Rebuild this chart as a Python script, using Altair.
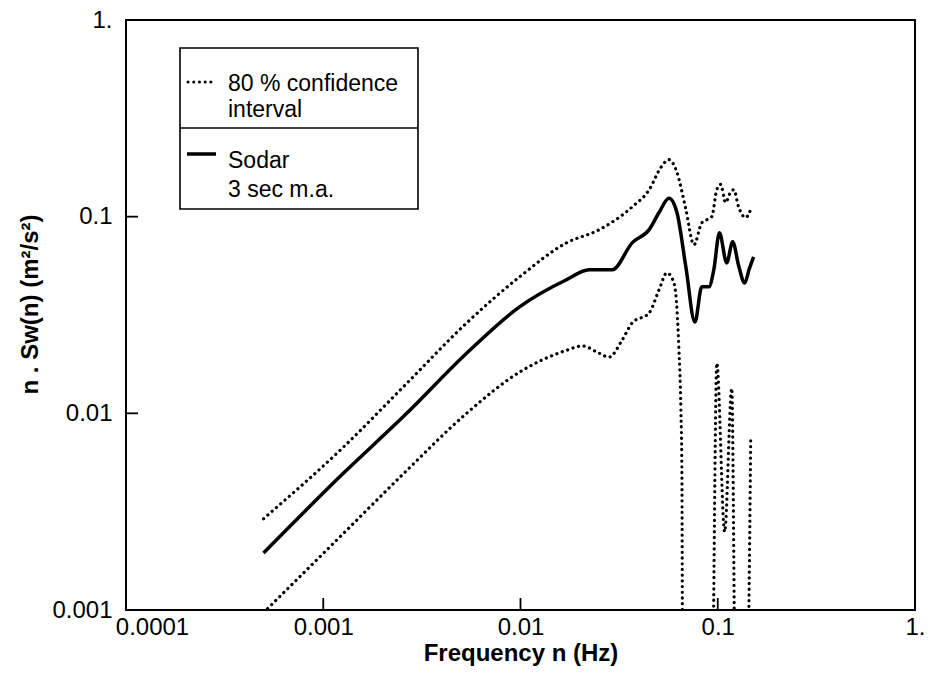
import altair as alt
import pandas as pd

# ---- data ----
sodar_freq = [0.000498, 0.00126, 0.00265, 0.00533, 0.00989, 0.0171, 0.0223, 0.0251, 0.0292,
              0.0368, 0.0449, 0.0504, 0.0566, 0.0621, 0.0689, 0.0766, 0.0830, 0.0902, 0.0955,
              0.102, 0.111, 0.119, 0.128, 0.137, 0.144, 0.152]
sodar_val = [0.00195, 0.00494, 0.0100, 0.0202, 0.0348, 0.0478, 0.0537, 0.0537, 0.0537,
             0.0736, 0.0859, 0.105, 0.124, 0.105, 0.0556, 0.0291, 0.0440, 0.0440, 0.0537,
             0.0828, 0.0582, 0.0745, 0.0556, 0.0460, 0.0537, 0.0625]

upper_freq = [0.000498, 0.00126, 0.00265, 0.00533, 0.00989, 0.0171, 0.0251, 0.0368, 0.0449,
              0.0515, 0.0566, 0.0621, 0.0689, 0.0757, 0.0830, 0.0933, 0.0989, 0.1035, 0.1096,
              0.1164, 0.1205, 0.1276, 0.1384, 0.1486]
upper_val = [0.00291, 0.00671, 0.0142, 0.0288, 0.0494, 0.0736, 0.0859, 0.112, 0.137,
             0.178, 0.195, 0.168, 0.109, 0.0719, 0.0931, 0.100, 0.137, 0.146, 0.118,
             0.134, 0.137, 0.112, 0.0989, 0.112]

# values below the axis floor (lower bound <= 0) are given as 0.0003 and clipped
lower_freq = [0.000498, 0.00126, 0.00265, 0.00533, 0.00989, 0.0171, 0.0206, 0.0251, 0.0281,
              0.0327, 0.0368, 0.0449, 0.0504, 0.0552, 0.0600, 0.0635, 0.0650, 0.0658, 0.0665,
              0.0933, 0.0989, 0.1084, 0.1178, 0.1233, 0.140, 0.1469]
lower_val = [0.00097, 0.00244, 0.00512, 0.0100, 0.0162, 0.0209, 0.0220, 0.0202, 0.0193,
             0.0235, 0.0288, 0.0324, 0.0425, 0.0518, 0.0460, 0.0217, 0.0107, 0.0051, 0.0003,
             0.0003, 0.018, 0.0025, 0.0134, 0.0003, 0.0003, 0.0073]

x_ticks = [0.0001, 0.001, 0.01, 0.1, 1.0]
y_ticks = [0.001, 0.01, 0.1, 1.0]
x_inner_ticks = [0.001, 0.01, 0.1]
y_inner_ticks = [0.01, 0.1]
legend_lines = ["80 % confidence", "interval", "Sodar", "3 sec m.a."]

W, H = 789, 590
FONT = "Liberation Sans"

sodar_df = pd.DataFrame({"freq": sodar_freq, "val": sodar_val, "series": "Sodar"})
bounds_df = pd.concat([
    pd.DataFrame({"freq": upper_freq, "val": upper_val, "series": "upper"}),
    pd.DataFrame({"freq": lower_freq, "val": lower_val, "series": "lower"}),
])

xscale = alt.Scale(type="log", domain=[0.0001, 1], nice=False)
yscale = alt.Scale(type="log", domain=[0.001, 1], nice=False)

label_expr = "datum.value >= 1 ? '1.' : format(datum.value, '~g')"

xaxis = alt.Axis(values=x_ticks, title="Frequency n (Hz)", labelExpr=label_expr,
                 grid=False, domain=False, ticks=False, labelFlush=False,
                 labelPadding=5, labelFontSize=24, labelFont=FONT, labelColor="black",
                 labelOffset={"condition": {"test": "datum.value < 0.0002", "value": 26}, "value": 0},
                 titleFont=FONT, titleFontSize=24, titleFontWeight="bold", titleColor="black",
                 titleX=W / 2, titleY=43, titleBaseline="middle", titleAlign="center")
yaxis = alt.Axis(values=y_ticks, title="n . Sw(n) (m²/s²)", labelExpr=label_expr,
                 grid=False, domain=False, ticks=False, labelFlush=False,
                 labelPadding=14, labelFontSize=24, labelFont=FONT, labelColor="black",
                 titleFont=FONT, titleFontSize=24, titleFontWeight="bold", titleColor="black",
                 titleX=-96, titleY=284, titleAngle=270, titleBaseline="middle", titleAlign="center")

X = alt.X("freq:Q", scale=xscale, axis=xaxis)
Y = alt.Y("val:Q", scale=yscale, axis=yaxis)

solid = alt.Chart(sodar_df).mark_line(
    color="black", strokeWidth=3.5, interpolate="monotone", clip=True, strokeJoin="round"
).encode(x=X, y=Y)

dotted = alt.Chart(bounds_df).mark_line(
    color="black", strokeWidth=3.2, strokeDash=[0.1, 5.6], strokeCap="round",
    interpolate="monotone", clip=True
).encode(x=X, y=Y, detail="series:N")

xt = alt.Chart(pd.DataFrame({"freq": x_inner_ticks})).mark_rule(
    color="black", strokeWidth=1.8
).encode(x=X, y=alt.value(H), y2=alt.value(H - 12))

yt = alt.Chart(pd.DataFrame({"val": y_inner_ticks})).mark_rule(
    color="black", strokeWidth=1.8
).encode(y=Y, x=alt.value(0), x2=alt.value(12))

one = pd.DataFrame({"k": [0]})
box = alt.Chart(one).mark_rect(fill="white", stroke="black", strokeWidth=1.6).encode(
    x=alt.value(54), x2=alt.value(292), y=alt.value(28), y2=alt.value(189))
divider = alt.Chart(one).mark_rule(color="black", strokeWidth=1.6).encode(
    x=alt.value(54), x2=alt.value(292), y=alt.value(108))
samp_dot = alt.Chart(one).mark_rule(
    color="black", strokeWidth=3.0, strokeDash=[0.1, 5.6], strokeCap="round").encode(
    x=alt.value(62), x2=alt.value(90), y=alt.value(62))
samp_solid = alt.Chart(one).mark_rule(color="black", strokeWidth=3.5).encode(
    x=alt.value(61), x2=alt.value(90), y=alt.value(134))

texts = []
for txt, yb in zip(legend_lines, [71, 97, 148, 177]):
    texts.append(alt.Chart(one).mark_text(
        align="left", baseline="alphabetic", font=FONT, fontSize=23, color="black"
    ).encode(x=alt.value(102), y=alt.value(yb), text=alt.value(txt)))

chart = alt.layer(dotted, solid, xt, yt, box, divider, samp_dot, samp_solid, *texts).properties(
    width=W, height=H,
    autosize=alt.AutoSizeParams(type="none"),
    padding={"left": 126, "top": 20, "right": 13, "bottom": 73},
    background="white",
).configure_view(stroke="black", strokeWidth=2)

chart.save("out.html", embed_options={"renderer": "svg", "actions": False})
